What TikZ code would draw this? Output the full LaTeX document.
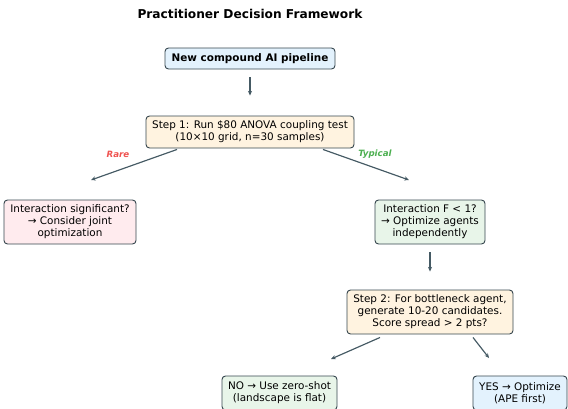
\documentclass[tikz,border=0pt]{standalone}
\usepackage{fontspec}
\setmainfont{DejaVu Sans}
\usetikzlibrary{arrows.meta,calc}
\definecolor{edgegray}{HTML}{455A64}
\definecolor{boxgray}{HTML}{37474F}
\definecolor{sblue}{HTML}{E3F2FD}
\definecolor{sorange}{HTML}{FFF3E0}
\definecolor{sred}{HTML}{FFEBEE}
\definecolor{sgreen}{HTML}{E8F5E9}
\definecolor{Fred}{HTML}{EF5350}
\definecolor{Fgreen}{HTML}{4CAF50}

\begin{document}
\begin{tikzpicture}[x=0.03cm,y=-0.03cm,
  box/.style={draw=boxgray,line width=0.8pt,rounded corners=3pt,align=center,
    font=\fontsize{8.9}{10.2}\selectfont,inner sep=2pt},
  flow/.style={edgegray,line width=1pt,-{Stealth[length=4pt,width=3.5pt]}}]
  \useasboundingbox (0,0) rectangle (568,408);
  \clip (0,0) rectangle (568,408);
  \node[font=\bfseries\fontsize{10.4}{12}\selectfont] (title) at (250,14) {Practitioner Decision Framework};
  \node[box,fill=sblue,font=\bfseries\fontsize{8.9}{10.2}\selectfont,minimum width=170*0.03cm,minimum height=21*0.03cm] (start) at (250,58.5) {New compound AI pipeline};
  \node[box,fill=sorange,minimum width=208*0.03cm,minimum height=32*0.03cm] (step1) at (250,132) {Step 1: Run \$80 ANOVA coupling test\\(10×10 grid, n=30 samples)};
  \node[box,fill=sred,minimum width=132*0.03cm,minimum height=44*0.03cm] (joint) at (70,222) {Interaction significant?\\→ Consider joint\\optimization};
  \node[box,fill=sgreen,minimum width=110*0.03cm,minimum height=44*0.03cm] (indep) at (430,222) {Interaction F < 1?\\→ Optimize agents\\independently};
  \node[box,fill=sorange,minimum width=166*0.03cm,minimum height=44*0.03cm] (step2) at (430,312) {Step 2: For bottleneck agent,\\generate 10-20 candidates.\\Score spread > 2 pts?};
  \node[box,fill=sgreen,minimum width=115*0.03cm,minimum height=34*0.03cm] (zeroshot) at (279.5,393) {NO → Use zero-shot\\(landscape is flat)};
  \node[box,fill=sblue,minimum width=94*0.03cm,minimum height=34*0.03cm] (ape) at (520,393) {YES → Optimize\\(APE first)};
  % free ends of the arrows
  \coordinate (rareEnd) at (91,180);
  \coordinate (typEnd) at (409,180);
  \coordinate (noEnd) at (331,359);
  \coordinate (yesEnd) at (489,358);
  \draw[flow] ($(start.south)+(0,8)$) -- ($(step1.north)+(0,-20)$);
  \draw[flow] ($(step1.south)+(-73,1)$) -- (rareEnd);
  \draw[flow] ($(step1.south)+(73,1)$) -- (typEnd);
  \draw[flow] ($(indep.south)+(0,8)$) -- ($(step2.north)+(0,-18)$);
  \draw[flow] ($(step2.south)+(-50,3)$) -- (noEnd);
  \draw[flow] ($(step2.south)+(43,3)$) -- (yesEnd);
  \node[Fred,font=\bfseries\itshape\fontsize{7.4}{8}\selectfont] (rare) at (118,154) {Rare};
  \node[Fgreen,font=\bfseries\itshape\fontsize{7.4}{8}\selectfont] (typical) at (375,154) {Typical};
\end{tikzpicture}
\end{document}
